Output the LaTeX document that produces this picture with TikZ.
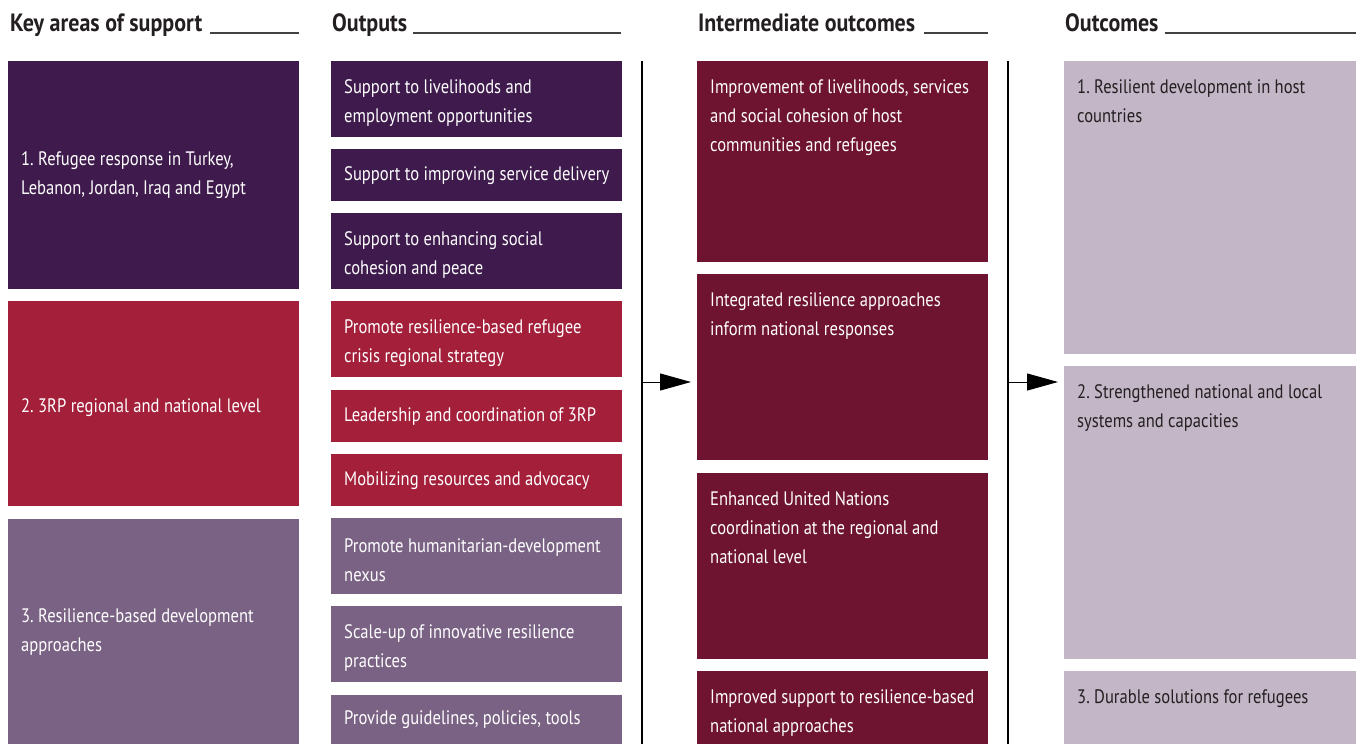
\documentclass[tikz,border=0pt]{standalone}
\usepackage{fontspec}
\setmainfont{PT Sans}[FakeStretch=0.85, BoldFeatures={FakeStretch=0.88}]
\usetikzlibrary{arrows.meta,calc}
\definecolor{areaone}{HTML}{3E1A4D}
\definecolor{areatwo}{HTML}{A31F3A}
\definecolor{areathree}{HTML}{7A6284}
\definecolor{interm}{HTML}{6E1330}
\definecolor{outcome}{HTML}{C3B6C7}
\definecolor{ink}{HTML}{231F20}
\newcommand\boxfont{\frenchspacing\fontsize{19.5}{29}\selectfont}
% paragraph settings shared by every panel text: 13pt left margin, ragged right
\newcommand\panelpar{\parindent=0pt\leftskip=13pt\rightskip=0pt plus 1fil\relax}
% text block filling the panel width, centred vertically by the node
\newcommand\midblock[2][291pt]{\parbox[t]{#1}{\panelpar #2}}
% text block of a given height, set from the top
\newcommand\topblock[3][291pt]{\parbox[c][#2][t]{#1}{\panelpar\rule{0pt}{32pt}#3}}
\tikzset{
  x=1pt, y=-1pt,
  panel/.style={anchor=north west, inner sep=0pt,
    minimum width=291pt, font=\boxfont, text=white},
  twoline/.style={text height=21.5pt},
  lowered/.style={text height=22pt},
  head/.style={anchor=base west, inner sep=0pt,
    font=\frenchspacing\bfseries\fontsize{25}{28}\selectfont, text=ink},
  headrule/.style={draw=ink!85, line width=1.3pt},
  divider/.style={draw=black, line width=1.4pt},
  flow/.style={draw=black, line width=1pt,
    -{Triangle[length=31pt,width=17pt]}, shorten >=6pt},
}
\begin{document}
\begin{tikzpicture}
\useasboundingbox (0,0) rectangle (1356,744);

% column headings with their rules
\node[head] (h1) at (10,31.5) {Key areas of support};
\node[head] (h2) at (332,31.5) {Outputs};
\node[head] (h3) at (698,31.5) {Intermediate outcomes};
\node[head] (h4) at (1065,31.5) {Outcomes};
\draw[headrule] ($(h1.base east)+(8,1.5)$) -- (299,33);
\draw[headrule] ($(h2.base east)+(6,1.5)$) -- (621,33);
\draw[headrule] ($(h3.base east)+(9,1.5)$) -- (988,33);
\draw[headrule] ($(h4.base east)+(6,1.5)$) -- (1356,33);

% key areas of support
\node[panel, fill=areaone, minimum height=228pt] (k1) at (8,61)
  {\midblock{1. Refugee response in Turkey,\\Lebanon, Jordan, Iraq and Egypt}};
\node[panel, lowered, fill=areatwo, minimum height=205pt] (k2) at (8,301)
  {\midblock{2. 3RP regional and national level}};
\node[panel, fill=areathree, minimum height=225pt] (k3) at (8,519)
  {\midblock{3. Resilience-based development\\approaches}};

% outputs
\node[panel, twoline, fill=areaone, minimum height=76pt] (o1) at (331,61)
  {\midblock{Support to livelihoods and\\employment opportunities}};
\node[panel, fill=areaone, minimum height=52pt] (o2) at (331,149)
  {\midblock{Support to improving service delivery}};
\node[panel, twoline, fill=areaone, minimum height=76pt] (o3) at (331,213)
  {\midblock{Support to enhancing social\\cohesion and peace}};
\node[panel, twoline, fill=areatwo, minimum height=76pt] (o4) at (331,301)
  {\midblock{Promote resilience-based refugee\\crisis regional strategy}};
\node[panel, fill=areatwo, minimum height=52pt] (o5) at (331,390)
  {\midblock{Leadership and coordination of 3RP}};
\node[panel, fill=areatwo, minimum height=52pt] (o6) at (331,454)
  {\midblock{Mobilizing resources and advocacy}};
\node[panel, twoline, fill=areathree, minimum height=76pt] (o7) at (331,518)
  {\midblock{Promote humanitarian-development\\nexus}};
\node[panel, twoline, fill=areathree, minimum height=76pt] (o8) at (331,606)
  {\midblock{Scale-up of innovative resilience\\practices}};
\node[panel, fill=areathree, minimum height=49pt] (o9) at (331,695)
  {\midblock{Provide guidelines, policies, tools}};

% intermediate outcomes
\node[panel, fill=interm] (i1) at (697,61)
  {\topblock{201pt}{Improvement of livelihoods, services\\and social cohesion of host\\communities and refugees}};
\node[panel, fill=interm] (i2) at (697,274)
  {\topblock{186pt}{Integrated resilience approaches\\inform national responses}};
\node[panel, fill=interm] (i3) at (697,473)
  {\topblock{186pt}{Enhanced United Nations\\coordination at the regional and\\national level}};
\node[panel, fill=interm] (i4) at (697,671)
  {\topblock{73pt}{Improved support to resilience-based\\national approaches}};

% outcomes
\node[panel, fill=outcome, text=ink, minimum width=292pt] (c1) at (1064,61)
  {\topblock[292pt]{293pt}{1. Resilient development in host\\countries}};
\node[panel, fill=outcome, text=ink, minimum width=292pt] (c2) at (1064,366)
  {\topblock[292pt]{293pt}{2. Strengthened national and local\\systems and capacities}};
\node[panel, fill=outcome, text=ink, minimum width=292pt] (c3) at (1064,671)
  {\topblock[292pt]{73pt}{3. Durable solutions for refugees}};

% dividers and flow arrows
\coordinate (d1t) at (642,61);
\coordinate (d1b) at (642,744);
\coordinate (d2t) at (1008,61);
\coordinate (d2b) at (1008,744);
\coordinate (a1) at (642,382);
\coordinate (a2) at (1008,382);
\draw[divider] (d1t) -- (d1b);
\draw[divider] (d2t) -- (d2b);
\draw[flow] (a1) -- (a1 -| i2.west);
\draw[flow] (a2) -- (a2 -| c2.west);
\end{tikzpicture}
\end{document}
